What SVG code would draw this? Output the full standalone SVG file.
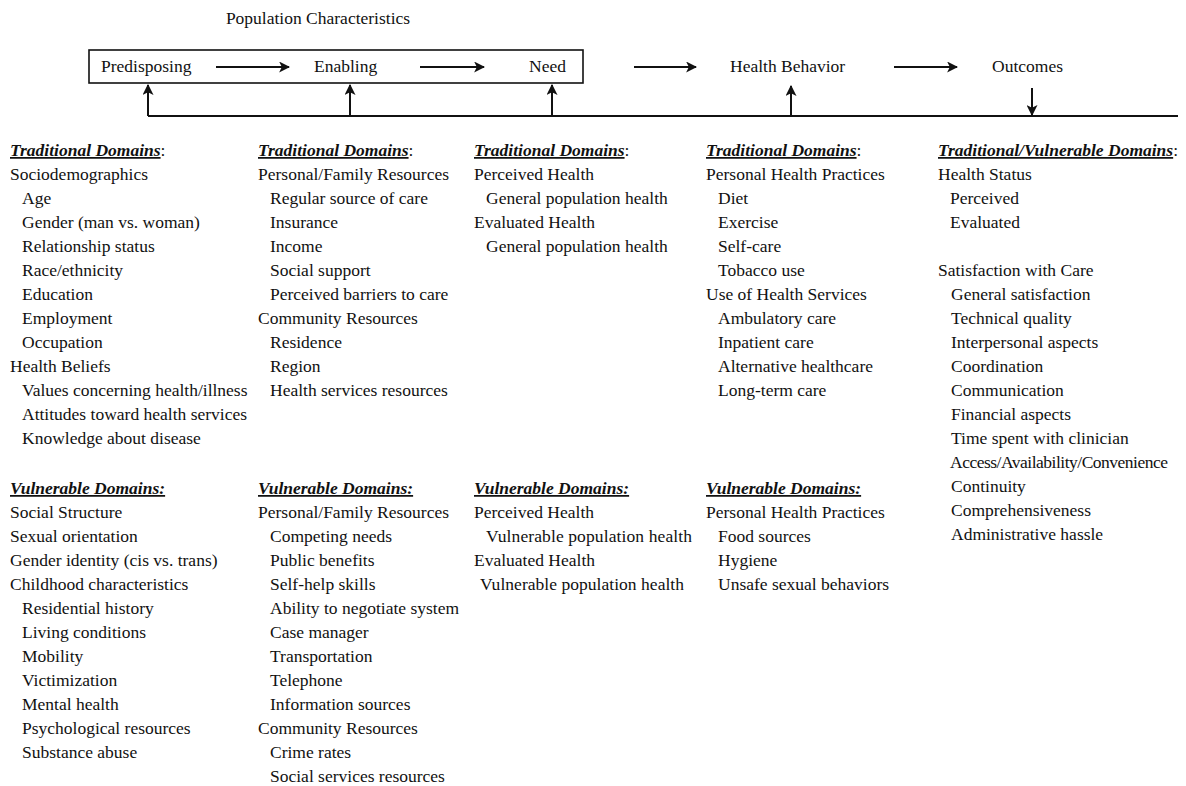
<svg xmlns="http://www.w3.org/2000/svg" width="1186" height="786" viewBox="0 0 1186 786">
<defs>
<style>
text{font-family:"Liberation Serif","Times New Roman",serif;font-size:17.5px;fill:#111}
.h{font-weight:bold;font-style:italic;text-decoration:underline}
.ln{stroke:#111;stroke-width:2;fill:none}
</style>
<marker id="ah" viewBox="0 0 10 10" refX="9" refY="5" markerWidth="5.5" markerHeight="5.5" orient="auto" markerUnits="strokeWidth">
<path d="M0,0 L10,5 L0,10 L2.5,5 z" fill="#111"/>
</marker>
</defs>
<rect width="1186" height="786" fill="#fff"/>
<g id="title"><text x="318" y="24" text-anchor="middle">Population Characteristics</text></g>
<g id="popbox"><rect x="89" y="50" width="494" height="33" fill="none" stroke="#111" stroke-width="1.6"/></g>
<g id="predisposing"><text x="101" y="72">Predisposing</text></g>
<g id="enabling"><text x="314" y="72">Enabling</text></g>
<g id="need"><text x="529" y="72">Need</text></g>
<g id="behavior"><text x="730" y="72">Health Behavior</text></g>
<g id="outcomes"><text x="992" y="72">Outcomes</text></g>
<g id="connectors">
<line class="ln" x1="216" y1="67" x2="289" y2="67" marker-end="url(#ah)"/>
<line class="ln" x1="420" y1="67" x2="484" y2="67" marker-end="url(#ah)"/>
<line class="ln" x1="634" y1="67" x2="696" y2="67" marker-end="url(#ah)"/>
<line class="ln" x1="894" y1="67" x2="957" y2="67" marker-end="url(#ah)"/>
<line class="ln" x1="148" y1="116" x2="1178" y2="116"/>
<line class="ln" x1="148" y1="116" x2="148" y2="85" marker-end="url(#ah)"/>
<line class="ln" x1="350" y1="116" x2="350" y2="85" marker-end="url(#ah)"/>
<line class="ln" x1="552" y1="116" x2="552" y2="85" marker-end="url(#ah)"/>
<line class="ln" x1="791" y1="116" x2="791" y2="86" marker-end="url(#ah)"/>
<line class="ln" x1="1032" y1="88" x2="1032" y2="115" marker-end="url(#ah)"/>
</g>
<g id="col1">
<text x="10" y="156"><tspan class="h">Traditional Domains</tspan>:</text>
<text x="10" y="180">Sociodemographics</text>
<text x="22" y="204">Age</text>
<text x="22" y="228">Gender (man vs. woman)</text>
<text x="22" y="252">Relationship status</text>
<text x="22" y="276">Race/ethnicity</text>
<text x="22" y="300">Education</text>
<text x="22" y="324">Employment</text>
<text x="22" y="348">Occupation</text>
<text x="10" y="372">Health Beliefs</text>
<text x="22" y="396">Values concerning health/illness</text>
<text x="22" y="420">Attitudes toward health services</text>
<text x="22" y="444">Knowledge about disease</text>
<text x="10" y="494" class="h">Vulnerable Domains:</text>
<text x="10" y="518">Social Structure</text>
<text x="10" y="542">Sexual orientation</text>
<text x="10" y="566">Gender identity (cis vs. trans)</text>
<text x="10" y="590">Childhood characteristics</text>
<text x="22" y="614">Residential history</text>
<text x="22" y="638">Living conditions</text>
<text x="22" y="662">Mobility</text>
<text x="22" y="686">Victimization</text>
<text x="22" y="710">Mental health</text>
<text x="22" y="734">Psychological resources</text>
<text x="22" y="758">Substance abuse</text>
</g>
<g id="col2">
<text x="258" y="156"><tspan class="h">Traditional Domains</tspan>:</text>
<text x="258" y="180">Personal/Family Resources</text>
<text x="270" y="204">Regular source of care</text>
<text x="270" y="228">Insurance</text>
<text x="270" y="252">Income</text>
<text x="270" y="276">Social support</text>
<text x="270" y="300">Perceived barriers to care</text>
<text x="258" y="324">Community Resources</text>
<text x="270" y="348">Residence</text>
<text x="270" y="372">Region</text>
<text x="270" y="396">Health services resources</text>
<text x="258" y="494" class="h">Vulnerable Domains:</text>
<text x="258" y="518">Personal/Family Resources</text>
<text x="270" y="542">Competing needs</text>
<text x="270" y="566">Public benefits</text>
<text x="270" y="590">Self-help skills</text>
<text x="270" y="614">Ability to negotiate system</text>
<text x="270" y="638">Case manager</text>
<text x="270" y="662">Transportation</text>
<text x="270" y="686">Telephone</text>
<text x="270" y="710">Information sources</text>
<text x="258" y="734">Community Resources</text>
<text x="270" y="758">Crime rates</text>
<text x="270" y="782">Social services resources</text>
</g>
<g id="col3">
<text x="474" y="156"><tspan class="h">Traditional Domains</tspan>:</text>
<text x="474" y="180">Perceived Health</text>
<text x="486" y="204">General population health</text>
<text x="474" y="228">Evaluated Health</text>
<text x="486" y="252">General population health</text>
<text x="474" y="494" class="h">Vulnerable Domains:</text>
<text x="474" y="518">Perceived Health</text>
<text x="486" y="542" textLength="206">Vulnerable population health</text>
<text x="474" y="566">Evaluated Health</text>
<text x="480" y="590" textLength="204">Vulnerable population health</text>
</g>
<g id="col4">
<text x="706" y="156"><tspan class="h">Traditional Domains</tspan>:</text>
<text x="706" y="180">Personal Health Practices</text>
<text x="718" y="204">Diet</text>
<text x="718" y="228">Exercise</text>
<text x="718" y="252">Self-care</text>
<text x="718" y="276">Tobacco use</text>
<text x="706" y="300">Use of Health Services</text>
<text x="718" y="324">Ambulatory care</text>
<text x="718" y="348">Inpatient care</text>
<text x="718" y="372">Alternative healthcare</text>
<text x="718" y="396">Long-term care</text>
<text x="706" y="494" class="h">Vulnerable Domains:</text>
<text x="706" y="518">Personal Health Practices</text>
<text x="718" y="542">Food sources</text>
<text x="718" y="566">Hygiene</text>
<text x="718" y="590">Unsafe sexual behaviors</text>
</g>
<g id="col5">
<text x="938" y="156"><tspan class="h">Traditional/Vulnerable Domains</tspan>:</text>
<text x="938" y="180">Health Status</text>
<text x="950" y="204">Perceived</text>
<text x="950" y="228">Evaluated</text>
<text x="938" y="276">Satisfaction with Care</text>
<text x="951" y="300">General satisfaction</text>
<text x="951" y="324">Technical quality</text>
<text x="951" y="348">Interpersonal aspects</text>
<text x="951" y="372">Coordination</text>
<text x="951" y="396">Communication</text>
<text x="951" y="420">Financial aspects</text>
<text x="951" y="444">Time spent with clinician</text>
<text x="950" y="468" textLength="218">Access/Availability/Convenience</text>
<text x="951" y="492">Continuity</text>
<text x="951" y="516">Comprehensiveness</text>
<text x="951" y="540">Administrative hassle</text>
</g>
</svg>
